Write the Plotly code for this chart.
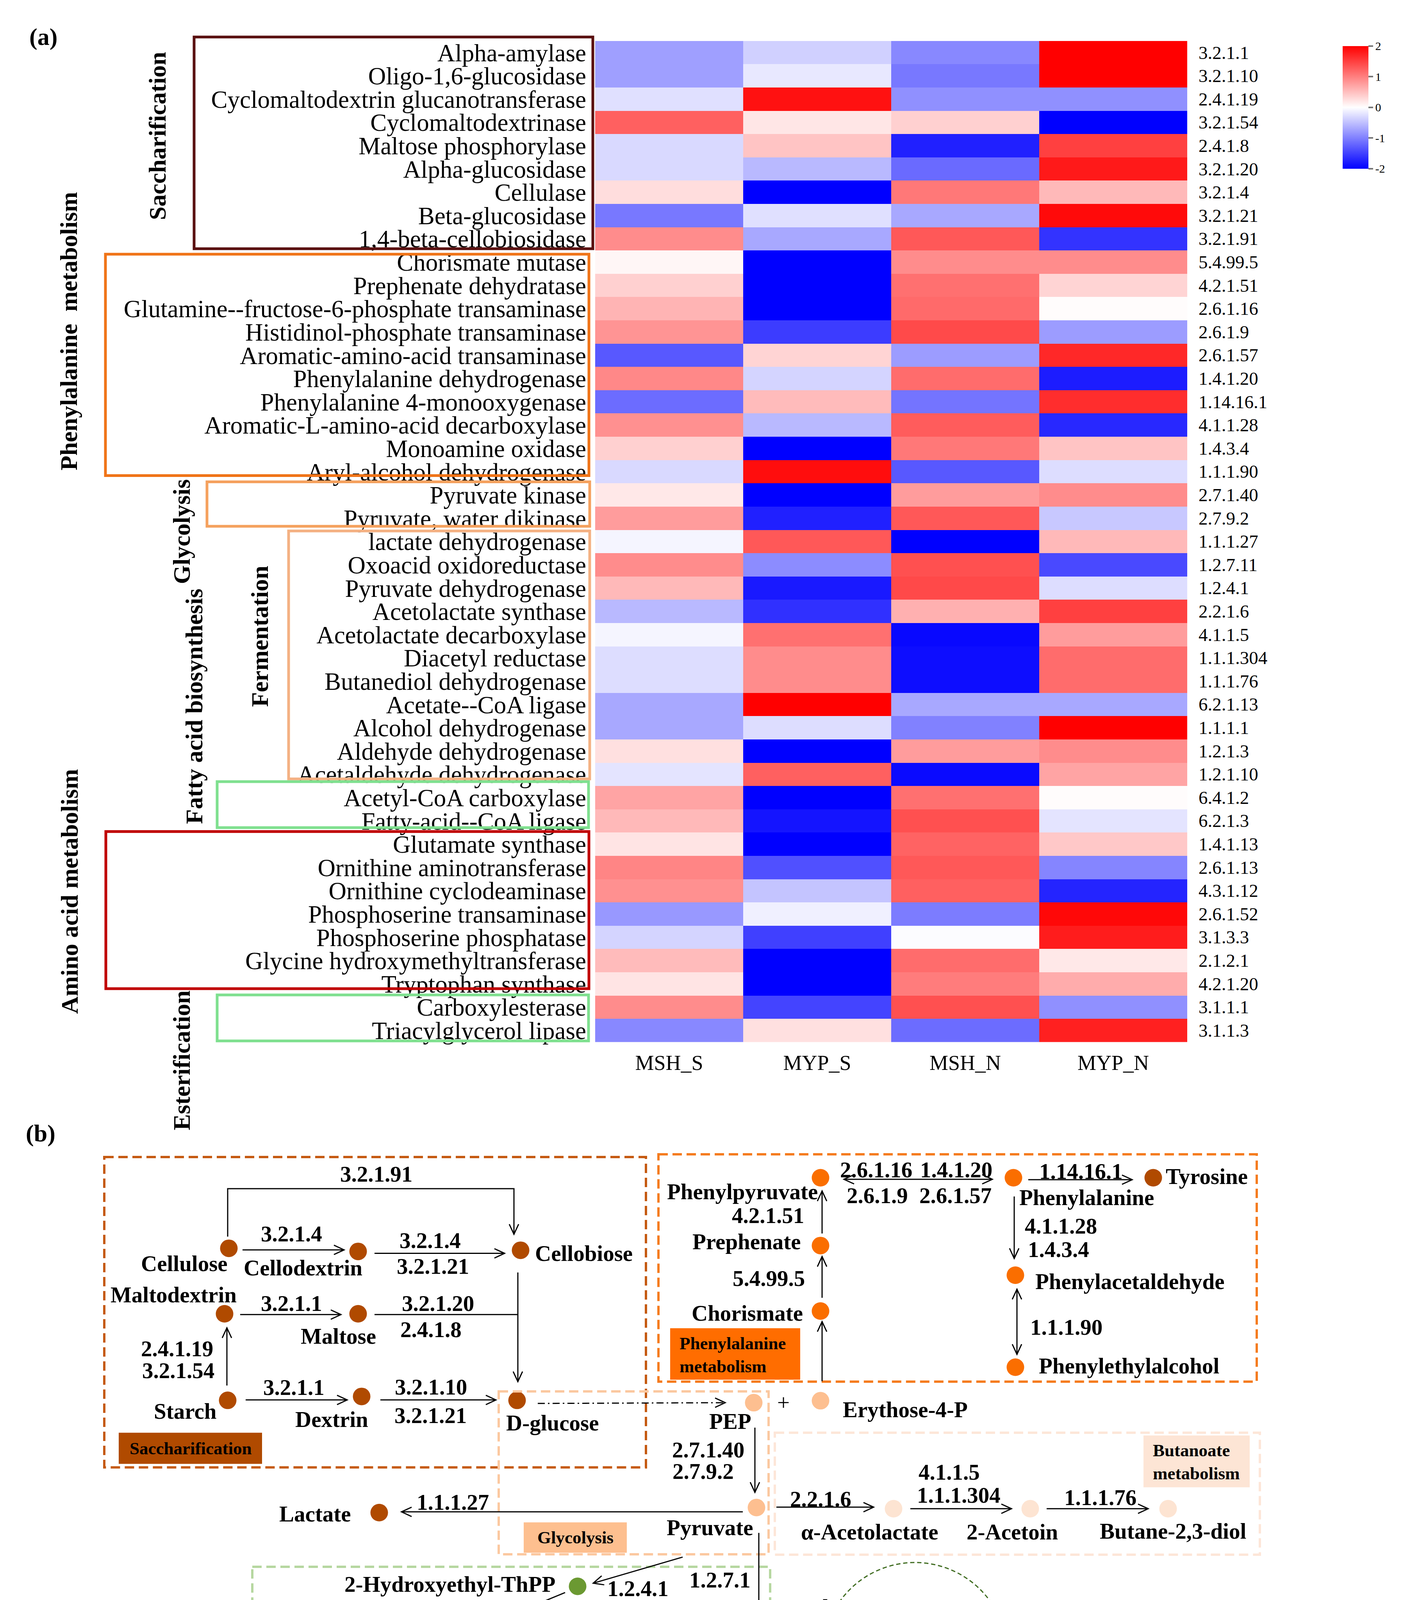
import math
import plotly.graph_objects as go

W, H = 3613, 5019
SERIF = "Liberation Serif"

# ---------------- data (panel a) ----------------
samples = ["MSH_S", "MYP_S", "MSH_N", "MYP_N"]
enzymes = [
    "Alpha-amylase", "Oligo-1,6-glucosidase", "Cyclomaltodextrin glucanotransferase",
    "Cyclomaltodextrinase", "Maltose phosphorylase", "Alpha-glucosidase", "Cellulase",
    "Beta-glucosidase", "1,4-beta-cellobiosidase",
    "Chorismate mutase", "Prephenate dehydratase", "Glutamine--fructose-6-phosphate transaminase",
    "Histidinol-phosphate transaminase", "Aromatic-amino-acid transaminase",
    "Phenylalanine dehydrogenase", "Phenylalanine 4-monooxygenase",
    "Aromatic-L-amino-acid decarboxylase", "Monoamine oxidase", "Aryl-alcohol dehydrogenase",
    "Pyruvate kinase", "Pyruvate, water dikinase",
    "lactate dehydrogenase", "Oxoacid oxidoreductase", "Pyruvate dehydrogenase",
    "Acetolactate synthase", "Acetolactate decarboxylase", "Diacetyl reductase",
    "Butanediol dehydrogenase", "Acetate--CoA ligase", "Alcohol dehydrogenase",
    "Aldehyde dehydrogenase", "Acetaldehyde dehydrogenase",
    "Acetyl-CoA carboxylase", "Fatty-acid--CoA ligase",
    "Glutamate synthase", "Ornithine aminotransferase", "Ornithine cyclodeaminase",
    "Phosphoserine transaminase", "Phosphoserine phosphatase",
    "Glycine hydroxymethyltransferase", "Tryptophan synthase",
    "Carboxylesterase", "Triacylglycerol lipase",
]
ec_numbers = [
    "3.2.1.1", "3.2.1.10", "2.4.1.19", "3.2.1.54", "2.4.1.8", "3.2.1.20", "3.2.1.4",
    "3.2.1.21", "3.2.1.91",
    "5.4.99.5", "4.2.1.51", "2.6.1.16", "2.6.1.9", "2.6.1.57", "1.4.1.20", "1.14.16.1",
    "4.1.1.28", "1.4.3.4", "1.1.1.90",
    "2.7.1.40", "2.7.9.2",
    "1.1.1.27", "1.2.7.11", "1.2.4.1", "2.2.1.6", "4.1.1.5", "1.1.1.304", "1.1.1.76",
    "6.2.1.13", "1.1.1.1", "1.2.1.3", "1.2.1.10",
    "6.4.1.2", "6.2.1.3",
    "1.4.1.13", "2.6.1.13", "4.3.1.12", "2.6.1.52", "3.1.3.3", "2.1.2.1", "4.2.1.20",
    "3.1.1.1", "3.1.1.3",
]
msh_s = [-0.75, -0.75, -0.24, 1.25, -0.30, -0.30, 0.27, -1.06, 0.90,
         0.07, 0.37, 0.59, 0.84, -1.31, 0.93, -1.15, 0.87, 0.37, -0.30,
         0.18, 0.78,
         -0.08, 0.90, 0.55, -0.55, -0.08, -0.27, -0.27, -0.68, -0.68, 0.24, -0.21,
         0.71, 0.55,
         0.21, 0.96, 0.87, -0.81, -0.34, 0.53, 0.21,
         0.90, -0.93]
myp_s = [-0.37, -0.18, 1.87, 0.20, 0.46, -0.55, -2.0, -0.24, -0.68,
         -2.0, -2.0, -2.0, -1.53, 0.34, -0.34, 0.53, -0.55, -2.0, 1.90,
         -2.0, -1.75,
         1.31, -0.90, -1.80, -1.62, 1.12, 0.90, 0.90, 2.0, -0.27, -2.0, 1.25,
         -2.0, -1.84,
         -2.0, -1.37, -0.46, -0.12, -1.50, -2.0, -2.0,
         -1.47, 0.24]
msh_n = [-0.93, -1.06, -0.87, 0.37, -1.75, -1.17, 1.06, -0.68, 1.31,
         0.90, 1.12, 1.17, 1.42, -0.78, 1.15, -1.09, 1.28, 1.06, -1.31,
         0.78, 1.31,
         -2.0, 1.37, 1.43, 0.62, -1.94, -1.90, -1.90, -0.68, -0.99, 0.78, -1.92,
         1.12, 1.37,
         1.22, 1.31, 1.25, -1.03, -0.02, 1.15, 1.03,
         1.37, -1.15]
myp_n = [2.0, 2.0, -0.87, -2.0, 1.50, 1.80, 0.55, 1.92, -1.60,
         0.90, 0.34, 0.02, -0.78, 1.69, -1.78, 1.65, -1.69, 0.46, -0.27,
         0.90, -0.43,
         0.55, -1.43, -0.27, 1.50, 0.78, 1.15, 1.15, -0.68, 2.0, 0.90, 0.71,
         0.02, -0.21,
         0.43, -0.96, -1.72, 1.94, 1.78, 0.18, 0.65,
         -0.87, 1.75]
cbar_ticks = [-2, -1, 0, 1, 2]
cbar_text = ["-2", "-1", "0", "1", "2"]

z = [[msh_s[i], myp_s[i], msh_n[i], myp_n[i]] for i in range(len(enzymes))]

def X(px):
    return px / W

def Y(py):
    return 1 - py / H

fig = go.Figure()
fig.add_trace(go.Heatmap(
    z=z, x=samples, y=enzymes, zmin=-2, zmax=2,
    colorscale=[[0, "#0000ff"], [0.5, "#ffffff"], [1, "#ff0000"]],
    hoverinfo="skip",
    colorbar=dict(x=X(3430), xanchor="left", y=Y(106), yanchor="top",
                  len=314, lenmode="pixels", thickness=66, thicknessmode="pixels",
                  outlinewidth=0, xpad=0, ypad=0,
                  tickmode="array", tickvals=cbar_ticks, ticktext=cbar_text,
                  ticks="outside", ticklen=12, tickwidth=4, tickcolor="#777777",
                  tickfont=dict(family=SERIF, size=30, color="black")),
))

shapes = []
annots = []

# EC labels on the right of the heatmap
for name, ec in zip(enzymes, ec_numbers):
    annots.append(dict(text=ec, xref="paper", x=X(3059), xanchor="left",
                       yref="y", y=name, yanchor="middle", showarrow=False,
                       font=dict(family=SERIF, size=47, color="black")))

# ---------------- panel (a) decorations ----------------
group_boxes = [  # (x0, y0, x1, y1, color)
    (489, 83, 1510, 626, "#5a1010"),
    (262, 640, 1500, 1208, "#f07418"),
    (522, 1224, 1502, 1338, "#f5a15e"),
    (731, 1350, 1502, 1986, "#f4b183"),
    (548, 1993, 1499, 2111, "#7fe08f"),
    (263, 2121, 1500, 2524, "#c00000"),
    (548, 2540, 1499, 2658, "#7fe08f"),
]
for x0, y0, x1, y1, c in group_boxes:
    shapes.append(dict(type="rect", xref="x2", yref="y2", x0=x0, y0=y0, x1=x1, y1=y1,
                       line=dict(color=c, width=7), fillcolor="rgba(0,0,0,0)"))

group_titles = [
    ("Saccharification", 395, 337),
    ("Phenylalanine\u00a0\u00a0metabolism", 168, 838),
    ("Glycolysis", 457, 1352),
    ("Fatty acid biosynthesis", 489, 1800),
    ("Fermentation", 657, 1620),
    ("Amino acid metabolism", 170, 2275),
    ("Esterification", 457, 2708),
]
for t, x, y in group_titles:
    annots.append(dict(text="<b>" + t + "</b>", xref="x2", yref="y2", x=x, y=y,
                       textangle=-90, xanchor="center", yanchor="middle", showarrow=False,
                       font=dict(family=SERIF, size=62, color="black")))

annots.append(dict(text="<b>(a)</b>", xref="x2", yref="y2", x=103, y=83, showarrow=False,
                   font=dict(family=SERIF, size=62, color="black")))
annots.append(dict(text="<b>(b)</b>", xref="x2", yref="y2", x=96, y=2895, showarrow=False,
                   font=dict(family=SERIF, size=62, color="black")))

# ---------------- panel (b) pathway ----------------
def vhead(x1, y1, dx, dy, color="black", L=26, Wd=12, width=3):
    n = math.hypot(dx, dy)
    ux, uy = dx / n, dy / n
    nx, ny = -uy, ux
    bx, by = x1 - L * ux, y1 - L * uy
    p = (f"M {bx + Wd * nx:.1f},{by + Wd * ny:.1f} L {x1:.1f},{y1:.1f} "
         f"L {bx - Wd * nx:.1f},{by - Wd * ny:.1f}")
    shapes.append(dict(type="path", path=p, xref="x2", yref="y2",
                       line=dict(color=color, width=width), fillcolor="rgba(0,0,0,0)"))

def arrow(pts, head=True, tail=False, dash="solid", color="black", width=3):
    p = "M " + " L ".join(f"{x},{y}" for x, y in pts)
    shapes.append(dict(type="path", path=p, xref="x2", yref="y2",
                       line=dict(color=color, width=width, dash=dash),
                       fillcolor="rgba(0,0,0,0)"))
    if head:
        (xa, ya), (xb, yb) = pts[-2], pts[-1]
        vhead(xb, yb, xb - xa, yb - ya, color=color)
    if tail:
        (xa, ya), (xb, yb) = pts[1], pts[0]
        vhead(xb, yb, xb - xa, yb - ya, color=color)

DD = "18px,8px,4px,8px"   # dash-dot
GD = "11px,7px"           # green dashed
GREEN = "#3e6b1f"

dashed_boxes = [  # (x0, y0, x1, y1, color, width)
    (259, 2956, 1646, 3752, "#c55a11", 6),
    (1678, 2949, 3210, 3532, "#f57c1f", 6),
    (1269, 3557, 1960, 3975, "#fbc8a0", 6),
    (1976, 3663, 3218, 3976, "#fde6d8", 6),
    (638, 4007, 1964, 4425, "#b6d7a0", 6),
    (855, 4463, 1972, 4831, "#d2e7c3", 6),
    (587, 4131, 1110, 4946, "#e2efda", 6),
    (2062, 4389, 3115, 4986, "#e00000", 6),
]
for x0, y0, x1, y1, c, w in dashed_boxes:
    shapes.append(dict(type="rect", xref="x2", yref="y2", x0=x0, y0=y0, x1=x1, y1=y1,
                       line=dict(color=c, width=w, dash="24px,12px"),
                       fillcolor="rgba(0,0,0,0)"))

label_boxes = [  # (x0, y0, x1, y1, fill, text, tx, ty, anchor)
    (296, 3663, 663, 3743, "#b04a00", "Saccharification", 480, 3703, "center"),
    (1708, 3395, 2041, 3527, "#ff6d00", "Phenylalanine<br>metabolism", 1730, 3463, "left"),
    (1333, 3893, 1597, 3971, "#fdbf8f", "Glycolysis", 1465, 3932, "center"),
    (2920, 3670, 3192, 3803, "#fde5d5", "Butanoate<br>metabolism", 2942, 3738, "left"),
    (653, 4332, 1133, 4409, "#b5d49a", "Alcohol fermentation", 893, 4371, "center"),
    (1117, 4724, 1622, 4804, "#d5e8c5", "Fatty acid biosynthesis", 1370, 4764, "center"),
    (615, 4854, 932, 4932, "#d5e8c5", "Esterification", 773, 4893, "center"),
    (2177, 4171, 2476, 4251, GREEN, "Citrate cycle", 2326, 4211, "center"),
    (2110, 4893, 2867, 4969, "#e00000", "Protein and amino acid metabolism", 2488, 4931, "center"),
]
for x0, y0, x1, y1, fc, t, tx, ty, anc in label_boxes:
    shapes.append(dict(type="rect", xref="x2", yref="y2", x0=x0, y0=y0, x1=x1, y1=y1,
                       line=dict(width=0), fillcolor=fc, layer="below"))
    annots.append(dict(text="<b>" + t + "</b>", xref="x2", yref="y2", x=tx, y=ty,
                       xanchor=anc, yanchor="middle", align="left", showarrow=False,
                       font=dict(family=SERIF, size=45, color="black")))

# arrows
arrow([(575, 3160), (575, 3037), (1308, 3037), (1308, 3154)])
arrow([(613, 3194), (873, 3194)])
arrow([(951, 3203), (1284, 3203)])
arrow([(607, 3360), (865, 3360)])
arrow([(951, 3360), (1318, 3360)], head=False)
arrow([(1318, 3252), (1318, 3532)])
arrow([(573, 3542), (573, 3394)])
arrow([(621, 3579), (881, 3579)])
arrow([(966, 3579), (1262, 3579)])
arrow([(1369, 3588), (1849, 3586)], dash=DD)

arrow([(2153, 3013), (2533, 3013)], tail=True)
arrow([(2625, 3014), (2891, 3014)])
arrow([(2589, 3057), (2589, 3216)])
arrow([(2596, 3295), (2596, 3462)], tail=True)
arrow([(2097, 3317), (2097, 3211)])
arrow([(2097, 3152), (2097, 3043)])
arrow([(2097, 3531), (2097, 3378)])

arrow([(1925, 3650), (1925, 3816)])
arrow([(1894, 3866), (1020, 3866)])
arrow([(1980, 3854), (2229, 3854)])
arrow([(2323, 3858), (2582, 3858)])
arrow([(2672, 3858), (2932, 3858)])

arrow([(1740, 3982), (1511, 4049)])
arrow([(1439, 4073), (1212, 4167)])
arrow([(1935, 3920), (1935, 4167)])
arrow([(1897, 4217), (1620, 4217)])
arrow([(1505, 4217), (1228, 4217)])
arrow([(1142, 4217), (865, 4217)])
arrow([(1926, 4302), (1926, 4358), (1180, 4358), (1180, 4299)])
arrow([(1939, 4304), (1939, 4591)])
arrow([(1900, 4657), (1167, 4657)], dash=DD)
arrow([(1031, 4655), (800, 4655)], head=False)
arrow([(800, 4430), (800, 4761)])

arrow([(2099, 4204), (2099, 4484)], dash=DD)
arrow([(2104, 4581), (2104, 4745)], dash=DD)
arrow([(2151, 4789), (2488, 4789)])
arrow([(2878, 4791), (2594, 4791)], dash=DD)
arrow([(2543, 4337), (2543, 4566)])
arrow([(2574, 4620), (2791, 4620)])
arrow([(2838, 4581), (2838, 4474)])

# citrate cycle (dashed green)
cx, cy, r = 2335, 4232, 236
shapes.append(dict(type="circle", xref="x2", yref="y2", x0=cx - r, x1=cx + r,
                   y0=cy - r, y1=cy + r, line=dict(color=GREEN, width=3, dash=GD),
                   fillcolor="rgba(0,0,0,0)"))
vhead(2567, 4272, -0.16, 0.99, color=GREEN)
vhead(2102, 4200, 0.156, -0.988, color=GREEN)
shapes.append(dict(type="path", xref="x2", yref="y2",
                   path="M 1968,4226 Q 2030,4224 2080,4197",
                   line=dict(color=GREEN, width=3, dash=GD), fillcolor="rgba(0,0,0,0)"))
vhead(2080, 4197, 50, -27, color=GREEN)
shapes.append(dict(type="path", xref="x2", yref="y2",
                   path=("M 2962,4762 C 3045,4650 3090,4545 3090,4440 "
                         "C 3085,4300 2950,4175 2829,4186 Q 2720,4195 2645,4232"),
                   line=dict(color=GREEN, width=3, dash=GD), fillcolor="rgba(0,0,0,0)"))
vhead(2645, 4232, -75, 37, color=GREEN)

# nodes
node_groups = [
    ("#b04a00", [(578, 3190), (909, 3198), (1325, 3195), (567, 3358), (909, 3358),
                 (575, 3580), (918, 3570), (1316, 3580), (2945, 3009), (963, 3868)]),
    ("#fa6e00", [(2093, 3009), (2093, 3183), (2093, 3351), (2587, 3009),
                 (2592, 3259), (2592, 3495)]),
    ("#fdbf90", [(1922, 3586), (2093, 3581), (1929, 3855)]),
    ("#fde4d2", [(2280, 3858), (2630, 3858), (2983, 3858)]),
    ("#6b9932", [(1471, 4057), (807, 4216), (1177, 4217), (1543, 4217), (1939, 4213)]),
    ("#b9d79a", [(1084, 4652), (1945, 4655), (800, 4810)]),
    ("#3e5f1f", [(2119, 4163), (2545, 4307)]),
    ("#e80000", [(2103, 4543), (2100, 4789), (2543, 4791), (2936, 4789),
                 (2543, 4616), (2840, 4616), (2840, 4448)]),
]
for col, pts in node_groups:
    fig.add_trace(go.Scatter(x=[p[0] for p in pts], y=[p[1] for p in pts],
                             xaxis="x2", yaxis="y2", mode="markers", hoverinfo="skip",
                             marker=dict(size=45, color=col, line=dict(width=0))))

diag_text = [
    ("Cellulose", 464, 3229, "center"), ("Cellodextrin", 768, 3240, "center"),
    ("Cellobiose", 1360, 3203, "left"), ("Maltodextrin", 436, 3309, "center"),
    ("Maltose", 858, 3415, "center"), ("Starch", 466, 3608, "center"),
    ("Dextrin", 841, 3629, "center"), ("D-glucose", 1286, 3638, "left"),
    ("3.2.1.91", 955, 2999, "center"), ("3.2.1.4", 738, 3153, "center"),
    ("3.2.1.4", 1093, 3170, "center"), ("3.2.1.21", 1100, 3236, "center"),
    ("3.2.1.1", 738, 3331, "center"), ("3.2.1.20", 1113, 3331, "center"),
    ("2.4.1.8", 1095, 3398, "center"), ("2.4.1.19", 445, 3447, "center"),
    ("3.2.1.54", 448, 3503, "center"), ("3.2.1.1", 744, 3547, "center"),
    ("3.2.1.10", 1095, 3546, "center"), ("3.2.1.21", 1094, 3619, "center"),
    ("Phenylpyruvate", 2088, 3045, "right"), ("4.2.1.51", 1958, 3106, "center"),
    ("Prephenate", 1904, 3173, "center"), ("5.4.99.5", 1960, 3267, "center"),
    ("Chorismate", 1905, 3356, "center"), ("2.6.1.16", 2235, 2988, "center"),
    ("1.4.1.20", 2440, 2988, "center"), ("2.6.1.9", 2238, 3055, "center"),
    ("2.6.1.57", 2438, 3055, "center"), ("1.14.16.1", 2760, 2992, "center"),
    ("Tyrosine", 2975, 3005, "left"), ("Phenylalanine", 2600, 3060, "left"),
    ("4.1.1.28", 2614, 3133, "left"), ("1.4.3.4", 2622, 3193, "left"),
    ("Phenylacetaldehyde", 2641, 3275, "left"), ("1.1.1.90", 2628, 3392, "left"),
    ("Phenylethylalcohol", 2650, 3491, "left"),
    ("Erythose-4-P", 2148, 3604, "left"), ("PEP", 1862, 3634, "center"),
    ("2.7.1.40", 1805, 3707, "center"), ("2.7.9.2", 1792, 3762, "center"),
    ("Pyruvate", 1810, 3906, "center"), ("Lactate", 799, 3871, "center"),
    ("1.1.1.27", 1151, 3841, "center"), ("2.2.1.6", 2093, 3833, "center"),
    ("\u03b1-Acetolactate", 2218, 3917, "center"), ("4.1.1.5", 2422, 3764, "center"),
    ("1.1.1.304", 2447, 3823, "center"), ("2-Acetoin", 2584, 3917, "center"),
    ("1.1.1.76", 2809, 3829, "center"), ("Butane-2,3-diol", 2995, 3915, "center"),
    ("2-Hydroxyethyl-ThPP", 1416, 4052, "right"), ("1.2.4.1", 1625, 4063, "center"),
    ("1.2.7.1", 1835, 4041, "center"), ("1.1.1.1", 1000, 4175, "center"),
    ("1.2.1.3", 1375, 4181, "center"), ("6.2.1.13", 1780, 4175, "center"),
    ("Ethanol", 784, 4272, "center"), ("Acetaldehyde", 1202, 4278, "center"),
    ("Acetate", 1527, 4274, "center"), ("Acetyl-CoA", 1813, 4269, "center"),
    ("1.2.1.10", 1516, 4332, "center"), ("6.4.1.2", 1817, 4514, "center"),
    ("6.2.1.3", 1543, 4625, "center"), ("Fatty acid", 979, 4733, "center"),
    ("Malonyl-CoA", 1802, 4726, "center"), ("3.1.1.1", 691, 4691, "center"),
    ("3.1.1.3", 692, 4747, "center"), ("Esters", 681, 4804, "center"),
    ("Oxaloacetate", 2155, 4111, "center"), ("2-oxoglutarate", 2575, 4282, "left"),
    ("Hydroxy-", 2157, 4512, "left"), ("pyruvate", 2157, 4578, "left"),
    ("2.6.1.52", 2119, 4641, "left"), ("3.1.3.3", 2124, 4702, "left"),
    ("Serine", 2195, 4855, "center"), ("Other amino acid", 2586, 4848, "center"),
    ("Protein", 2960, 4854, "center"), ("1.4.1.13", 2564, 4461, "left"),
    ("2.6.1.13", 2558, 4529, "left"), ("Glu", 2548, 4677, "center"),
    ("Orn", 2841, 4677, "center"), ("Pro", 2889, 4461, "left"),
    ("4.3.1.12", 2862, 4545, "left"),
]
for t, x, y, anc in diag_text:
    annots.append(dict(text="<b>" + t + "</b>", xref="x2", yref="y2", x=x, y=y,
                       xanchor=anc, yanchor="middle", showarrow=False,
                       font=dict(family=SERIF, size=57, color="black")))
annots.append(dict(text="+", xref="x2", yref="y2", x=1998, y=3586, showarrow=False,
                   font=dict(family=SERIF, size=57, color="black")))

fig.update_layout(
    width=W, height=H, margin=dict(l=0, r=0, t=0, b=0),
    paper_bgcolor="white", plot_bgcolor="rgba(0,0,0,0)", showlegend=False,
    xaxis=dict(domain=[X(1516), X(3032)], side="bottom", showgrid=False, zeroline=False,
               showline=False, ticks="", ticklabelstandoff=16,
               tickfont=dict(family=SERIF, size=54, color="black")),
    yaxis=dict(domain=[Y(2661), Y(93)], autorange="reversed", showgrid=False,
               zeroline=False, showline=False, ticks="", tickmode="array",
               tickvals=enzymes, ticktext=enzymes, ticklabelstandoff=22,
               tickfont=dict(family=SERIF, size=63, color="black")),
    xaxis2=dict(domain=[0, 1], range=[0, W], visible=False, anchor="y2", fixedrange=True),
    yaxis2=dict(domain=[0, 1], range=[H, 0], visible=False, anchor="x2", fixedrange=True),
    shapes=shapes, annotations=annots,
)

fig.write_html("out.html")
